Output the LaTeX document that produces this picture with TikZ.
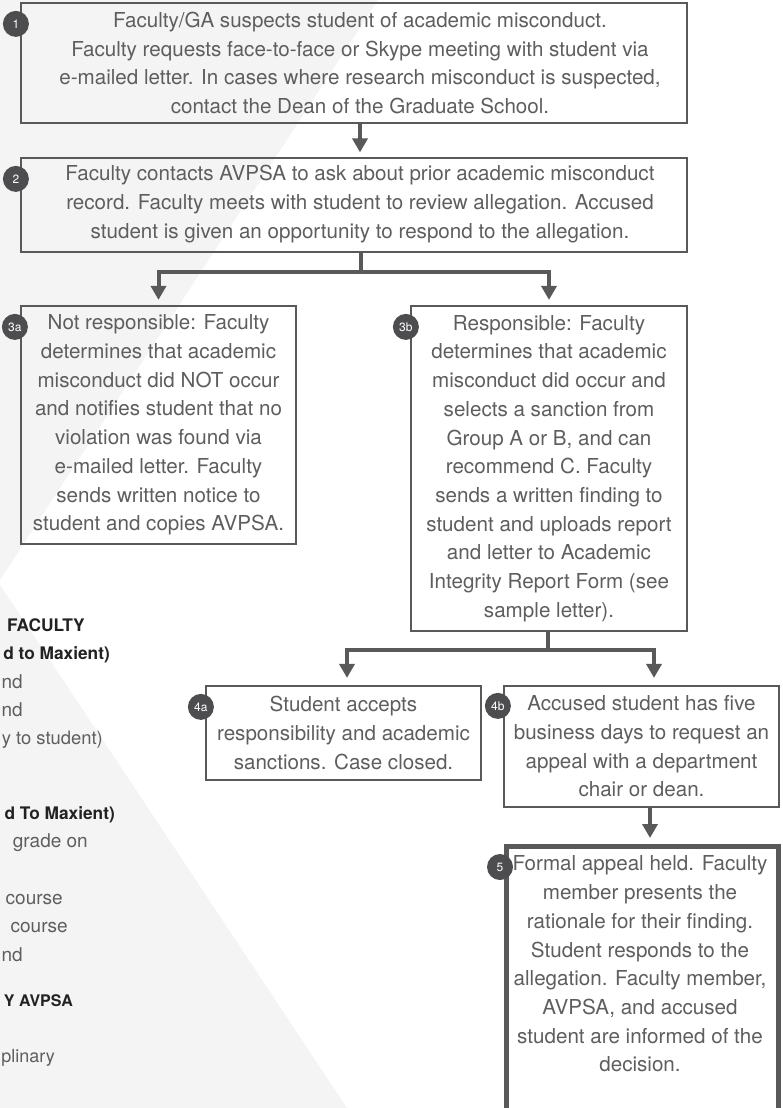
\documentclass[tikz,border=0pt]{standalone}
\usepackage{fontspec}
\setmainfont{TeX Gyre Heros}
\usetikzlibrary{arrows.meta,calc}
\definecolor{bggray}{HTML}{F4F4F4}
\definecolor{linegray}{HTML}{595959}
\definecolor{txtgray}{HTML}{5E5E5E}
\definecolor{badgegray}{HTML}{4D4D4F}
\definecolor{hdr}{HTML}{222222}
\begin{document}
\begin{tikzpicture}[x=1pt,y=-1pt,
  box/.style={draw=linegray, line width=2.2pt, align=center, text=txtgray,
    font=\fontsize{20.6}{28.7}\selectfont, inner sep=0pt},
  boxtext/.style={align=center, text=txtgray, font=\fontsize{20.6}{28.7}\selectfont, inner sep=0pt},
  badge/.style={circle, fill=badgegray, text=white, minimum size=26pt, inner sep=0pt,
    font=\fontsize{12}{12}\selectfont},
  conn/.style={draw=linegray, line width=4pt},
  arr/.style={conn, -{Triangle[length=14pt,width=15pt]}},
  lst/.style={anchor=base east, text=txtgray, inner sep=0pt, font=\fontsize{19}{20}\selectfont},
  hd/.style={anchor=base east, text=hdr, inner sep=0pt, font=\bfseries\fontsize{17.3}{20}\selectfont}
]
\fill[white] (0,0) rectangle (783,1108);
\useasboundingbox (0,0) rectangle (783,1108);
\fill[bggray] (0,0) -- (378,0) -- (0,580) -- cycle;
\fill[bggray] (0,585) -- (347,1108) -- (0,1108) -- cycle;

% left list fragments
\node[hd]  (l1)  at (85,631)  {FACULTY};
\node[hd]  (l2)  at (110,659) {d to Maxient)};
\node[lst] (l3)  at (23,688)  {nd};
\node[lst] (l4)  at (23,716)  {nd};
\node[lst, font=\fontsize{18.4}{20}\selectfont] (l5)  at (103,744) {y to student)};
\node[hd]  (l6)  at (115,819) {d To Maxient)};
\node[lst] (l7)  at (88,847)  {grade on};
\node[lst] (l8)  at (63,904)  {course};
\node[lst] (l9)  at (68,932)  {course};
\node[lst] (l10) at (23,961)  {nd};
\node[hd, font=\bfseries\fontsize{16}{20}\selectfont] (l11) at (73,1006) {Y AVPSA};
\node[lst, font=\fontsize{18}{20}\selectfont] (l12) at (55,1062) {plinary};

% boxes
\node[box, minimum width=666pt, minimum height=120pt] (b1) at (354,63) {};
\node[boxtext] (t1) at (360,63)
  {Faculty/GA suspects student of academic misconduct.\\
   Faculty requests face-to-face or Skype meeting with student via\\
   e-mailed letter. In cases where research misconduct is suspected,\\
   contact the Dean of the Graduate School.};
\node[box, minimum width=666pt, minimum height=94pt] (b2) at (354,205) {};
\node[boxtext] (t2) at (360,204)
  {Faculty contacts AVPSA to ask about prior academic misconduct\\
   record. Faculty meets with student to review allegation. Accused\\
   student is given an opportunity to respond to the allegation.};
\node[box, minimum width=275pt, minimum height=238pt] (b3a) at (158.5,425)
  {Not responsible: Faculty\\ determines that academic\\ misconduct did NOT occur\\
   and notifies student that no\\ violation was found via\\ e-mailed letter. Faculty\\
   sends written notice to\\ student and copies AVPSA.};
\node[box, minimum width=276pt, minimum height=325pt] (b3b) at (549,468.5)
  {Responsible: Faculty\\ determines that academic\\ misconduct did occur and\\
   selects a sanction from\\ Group A or B, and can\\ recommend C. Faculty\\
   sends a written finding to\\ student and uploads report\\ and letter to Academic\\
   Integrity Report Form (see\\ sample letter).};
\node[box, minimum width=275pt, minimum height=94pt] (b4a) at (343.5,733)
  {Student accepts\\ responsibility and academic\\ sanctions. Case closed.};
\node[box, minimum width=275pt, minimum height=121pt] (b4b) at (641.5,746.5)
  {Accused student has five\\ business days to request an\\ appeal with a department\\ chair or dean.};
\node[draw=linegray, line width=4.5pt, minimum width=272pt, minimum height=300pt,
  inner sep=0pt, anchor=north west] (b5) at (504,844) {};
\node[boxtext] (t5) at (640,964)
  {Formal appeal held. Faculty\\ member presents the\\ rationale for their finding.\\
   Student responds to the\\ allegation. Faculty member,\\ AVPSA, and accused\\
   student are informed of the\\ decision.};

% badges
\node[badge] (n1)  at ($(b1.north west)+(-4,22)$)  {1};
\node[badge] (n2)  at ($(b2.north west)+(-4,22)$)  {2};
\node[badge] (n3a) at ($(b3a.north west)+(-5,22)$) {3a};
\node[badge] (n3b) at ($(b3b.north west)+(-4,22)$) {3b};
\node[badge] (n4a) at ($(b4a.north west)+(-4,22)$) {4a};
\node[badge] (n4b) at ($(b4b.north west)+(-5,21)$) {4b};
\node[badge] (n5)  at ($(b5.north west)+(-4,23)$)  {5};

% connectors
\coordinate (a1) at (360,0);
\draw[arr, shorten >=4.5pt] (b1.south -| a1) -- (b2.north -| a1);
\coordinate (j2) at (361,272);
\draw[conn] (b2.south -| j2) -- (j2);
\draw[arr, shorten >=5pt] (j2) -| (b3a.north);
\draw[arr, shorten >=5pt] (j2) -| (b3b.north);
\coordinate (j3) at (548,650);
\coordinate (a4a) at (347,0);
\coordinate (a4b) at (654,0);
\draw[conn] (b3b.south -| j3) -- (j3);
\draw[arr, shorten >=7pt] (j3) -| (b4a.north -| a4a);
\draw[arr, shorten >=7pt] (j3) -| (b4b.north -| a4b);
\coordinate (a5) at (650,0);
\draw[arr, shorten >=6pt] (b4b.south -| a5) -- (b5.north -| a5);
\end{tikzpicture}
\end{document}
